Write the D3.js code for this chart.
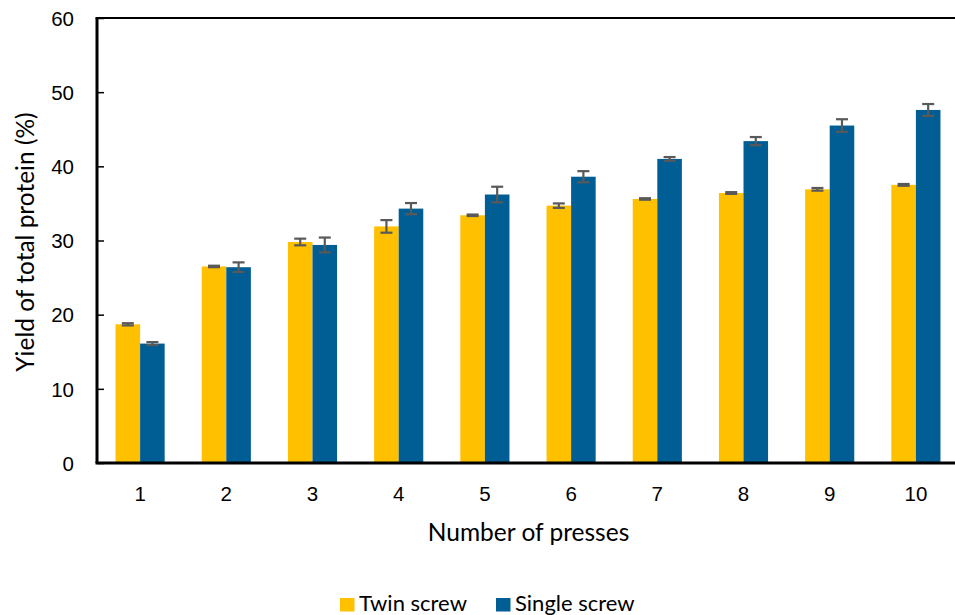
<!DOCTYPE html>
<html>
<head>
<meta charset="utf-8">
<script src="https://cdn.jsdelivr.net/npm/d3@7"></script>
<style>
  html, body { margin: 0; padding: 0; background: #fff; }
  svg { display: block; font-family: Lato, "Open Sans", "Liberation Sans", sans-serif; }
</style>
</head>
<body>
<svg id="chart" width="955" height="615"></svg>
<script>
// Protein yield by number of presses, twin vs single screw
const presses = ["1", "2", "3", "4", "5", "6", "7", "8", "9", "10"];
const twinScrew = [18.7, 26.5, 29.8, 31.9, 33.4, 34.7, 35.6, 36.4, 36.9, 37.5];
const twinErr   = [0.15, 0.1, 0.45, 0.85, 0.1, 0.3, 0.1, 0.12, 0.18, 0.12];
const singleScrew = [16.1, 26.4, 29.4, 34.3, 36.2, 38.6, 41.0, 43.4, 45.5, 47.6];
const singleErr   = [0.2, 0.65, 1.0, 0.75, 1.05, 0.75, 0.25, 0.55, 0.85, 0.8];
const yTicks = [0, 10, 20, 30, 40, 50, 60];
const seriesNames = ["Twin screw", "Single screw"];
const colors = ["#FFC000", "#005E94"];

const svg = d3.select("#chart");
const margin = { left: 97, top: 18, right: -4, bottom: 152 };
const W = 955, H = 615;
const x0 = margin.left, x1 = W - margin.right;
const yTop = margin.top, yBot = H - margin.bottom;

const x = d3.scaleBand().domain(presses).range([x0, x1]).paddingInner(0.43).paddingOuter(0.215);
const xs = d3.scaleBand().domain(seriesNames).range([0, x.bandwidth()]);
const y = d3.scaleLinear().domain([0, 60]).range([yBot, yTop]);

const data = presses.map((p, i) => ({
  p,
  vals: [
    { s: seriesNames[0], v: twinScrew[i], e: twinErr[i], c: colors[0] },
    { s: seriesNames[1], v: singleScrew[i], e: singleErr[i], c: colors[1] }
  ]
}));

const groups = svg.append("g").selectAll("g").data(data).join("g")
  .attr("transform", d => `translate(${x(d.p)},0)`);

groups.selectAll("rect").data(d => d.vals).join("rect")
  .attr("x", d => xs(d.s))
  .attr("width", xs.bandwidth())
  .attr("y", d => y(d.v))
  .attr("height", d => y(0) - y(d.v))
  .attr("fill", d => d.c);

// error bars
const eb = groups.selectAll("g.err").data(d => d.vals).join("g").attr("class", "err")
  .attr("stroke", "#595959").attr("stroke-width", 2.2);
const cap = 6;
eb.append("line")
  .attr("x1", d => xs(d.s) + xs.bandwidth() / 2).attr("x2", d => xs(d.s) + xs.bandwidth() / 2)
  .attr("y1", d => y(d.v + d.e)).attr("y2", d => y(d.v - d.e));
eb.append("line")
  .attr("x1", d => xs(d.s) + xs.bandwidth() / 2 - cap).attr("x2", d => xs(d.s) + xs.bandwidth() / 2 + cap)
  .attr("y1", d => y(d.v + d.e)).attr("y2", d => y(d.v + d.e));
eb.append("line")
  .attr("x1", d => xs(d.s) + xs.bandwidth() / 2 - cap).attr("x2", d => xs(d.s) + xs.bandwidth() / 2 + cap)
  .attr("y1", d => y(d.v - d.e)).attr("y2", d => y(d.v - d.e));

// y axis with inward ticks
const yAxis = svg.append("g").attr("transform", `translate(${x0},0)`)
  .call(d3.axisRight(y).tickValues(yTicks).tickSize(7).tickFormat(d3.format("d")));
yAxis.select(".domain").remove();
yAxis.selectAll(".tick line").attr("stroke", "#000").attr("stroke-width", 1.5);
yAxis.selectAll(".tick text").attr("x", -23).attr("text-anchor", "end")
  .attr("font-size", 20.5).attr("fill", "#000").attr("dy", "0.35em");

// x axis labels
const xAxis = svg.append("g").attr("transform", `translate(0,${yBot})`)
  .call(d3.axisBottom(x).tickSize(0));
xAxis.select(".domain").remove();
xAxis.selectAll(".tick text").attr("y", 38).attr("dy", 0)
  .attr("font-size", 20.5).attr("fill", "#000");

// frame lines: left, top, bottom
svg.append("line").attr("x1", x0).attr("x2", x0).attr("y1", yTop).attr("y2", yBot)
  .attr("stroke", "#000").attr("stroke-width", 3);
svg.append("line").attr("x1", x0 - 1.5).attr("x2", W).attr("y1", yTop).attr("y2", yTop)
  .attr("stroke", "#000").attr("stroke-width", 2);
svg.append("line").attr("x1", x0 - 1.5).attr("x2", W).attr("y1", yBot).attr("y2", yBot)
  .attr("stroke", "#000").attr("stroke-width", 3);

// axis titles
svg.append("text").attr("transform", `translate(34,242) rotate(-90)`)
  .attr("text-anchor", "middle").attr("font-size", 24.5).attr("fill", "#000")
  .text("Yield of total protein (%)");
svg.append("text").attr("x", 528.5).attr("y", 541).attr("text-anchor", "middle")
  .attr("font-size", 24.5).attr("fill", "#000").text("Number of presses");

// legend
const legendX = [340, 496];
const lg = svg.append("g").selectAll("g").data(seriesNames).join("g")
  .attr("transform", (d, i) => `translate(${legendX[i]},598)`);
lg.append("rect").attr("width", 14.5).attr("height", 13.5).attr("fill", (d, i) => colors[i]);
lg.append("text").attr("x", 19).attr("y", 13).attr("font-size", 22).attr("fill", "#000").text(d => d);
</script>
</body>
</html>
